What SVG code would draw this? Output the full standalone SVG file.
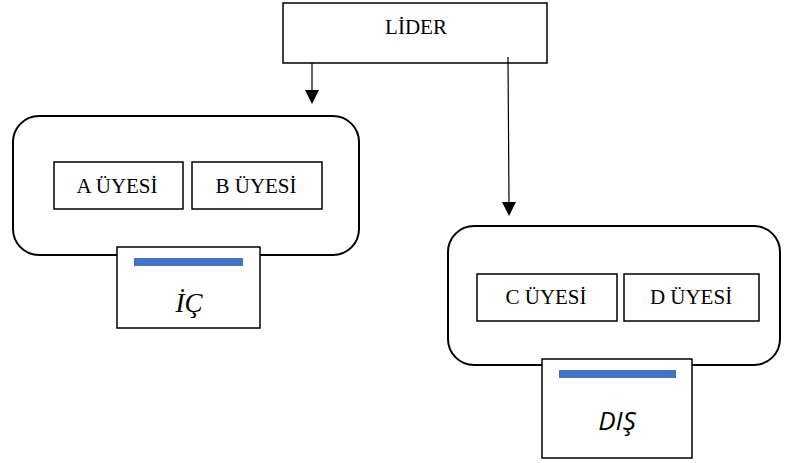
<svg xmlns="http://www.w3.org/2000/svg" width="789" height="463" viewBox="0 0 789 463">
<style>
.box{fill:#fff;stroke:#000;stroke-width:1.5}
.grp{fill:#fff;stroke:#000;stroke-width:2}
.bar{fill:#4472c4}
.t{font-family:"Liberation Serif",serif;font-size:21px;text-anchor:middle;fill:#000}
.conn{stroke:#000;stroke-width:1.2;fill:none}
.head{fill:#000}
</style>
<rect width="789" height="463" fill="#fff"/>
<g id="lider">
<rect class="box" x="283" y="3" width="264" height="60" stroke-width="2"/>
<text class="t" x="416" y="34">LİDER</text>
</g>
<g id="connectors">
<line class="conn" x1="312" y1="63" x2="312" y2="92"/>
<path class="head" d="M305,90 L319,90 L312,104 Z"/>
<line class="conn" x1="508" y1="57" x2="509" y2="203"/>
<path class="head" d="M502,202 L516,202 L509,216 Z"/>
</g>
<g id="ic-group">
<rect class="grp" x="13" y="116" width="346" height="139" rx="26"/>
</g>
<g id="a-uyesi">
<rect class="box" x="54" y="162" width="129" height="47"/>
<text class="t" x="117" y="193">A ÜYESİ</text>
</g>
<g id="b-uyesi">
<rect class="box" x="192" y="162" width="130" height="47"/>
<text class="t" x="256" y="193">B ÜYESİ</text>
</g>
<g id="ic">
<rect class="box" x="117" y="247" width="143" height="81"/>
<rect class="bar" x="134" y="258" width="109" height="8"/>
<text x="189" y="312" style="font-family:'Liberation Serif',serif;font-size:27px;font-style:italic;text-anchor:middle">İÇ</text>
</g>
<g id="dis-group">
<rect class="grp" x="448" y="226" width="332" height="139" rx="26"/>
</g>
<g id="c-uyesi">
<rect class="box" x="477" y="274" width="140" height="47"/>
<text class="t" x="546" y="304">C ÜYESİ</text>
</g>
<g id="d-uyesi">
<rect class="box" x="624" y="274" width="135" height="47"/>
<text class="t" x="691" y="304">D ÜYESİ</text>
</g>
<g id="dis">
<rect class="box" x="542" y="359" width="150" height="99"/>
<rect class="bar" x="559" y="370" width="117" height="8"/>
<text x="617" y="430" style="font-family:'Open Sans','Liberation Sans',sans-serif;font-size:26px;font-style:italic;text-anchor:middle">DIŞ</text>
</g>
</svg>
